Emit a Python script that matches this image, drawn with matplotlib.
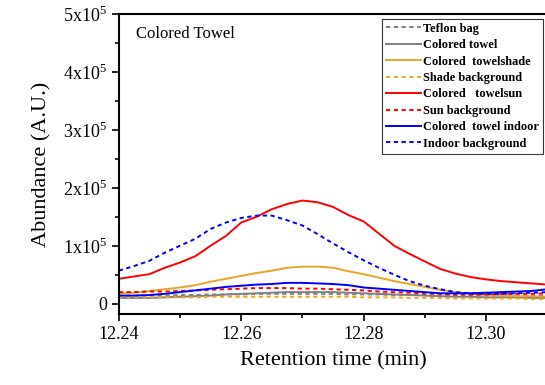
import numpy as np
import matplotlib
matplotlib.use("Agg")
import matplotlib.pyplot as plt
from matplotlib.ticker import MultipleLocator, FuncFormatter

plt.rcParams['font.family'] = 'serif'
plt.rcParams['font.serif'] = ['Liberation Serif']
plt.rcParams['mathtext.fontset'] = 'custom'
plt.rcParams['mathtext.rm'] = 'Liberation Serif'

# ── data (abundance in units of 1e3) ─────────────────────
time = [12.240, 12.2425, 12.245, 12.2475, 12.250, 12.2525, 12.255, 12.2575,
        12.260, 12.2625, 12.265, 12.2675, 12.270, 12.2725, 12.275, 12.2775,
        12.280, 12.2825, 12.285, 12.2875, 12.290, 12.2925, 12.295, 12.2975,
        12.300, 12.3025, 12.305, 12.3075, 12.310]

teflon_bag   = [14, 14, 14, 14, 15, 15, 16, 16, 16, 17, 17, 17, 17, 17, 17,
                16, 16, 16, 15, 15, 15, 14, 14, 14, 14, 14, 14, 14, 14]
towel        = [10, 10, 10, 11, 12, 13, 14, 16, 17, 18, 19, 20, 20, 20, 20,
                19, 18, 17, 16, 15, 14, 13, 12, 12, 11, 11, 11, 10, 10]
towel_shade  = [18, 19, 22, 25, 28, 32, 38, 43, 48, 53, 57, 62, 64, 64, 62,
                56, 51, 45, 39, 34, 29, 24, 20, 17, 15, 14, 13, 13, 12]
shade_bg     = [11, 11, 11, 11, 11, 11, 12, 12, 12, 12, 12, 12, 12, 12, 12,
                12, 11, 11, 11, 10, 10, 10, 9, 9, 9, 9, 9, 8, 8]
towel_sun    = [43, 47, 51, 62, 71, 82, 100, 117, 140, 150, 163, 172, 178, 175, 167,
                153, 142, 121, 100, 86, 73, 60, 52, 46, 42, 39, 37, 35, 33]
sun_bg       = [20, 20, 21, 21, 22, 23, 24, 25, 26, 27, 27, 27, 26, 26, 25,
                24, 23, 21, 20, 19, 18, 17, 16, 16, 16, 17, 17, 17, 18]
towel_indoor = [14, 14, 15, 17, 20, 23, 26, 29, 31, 33, 34, 36, 36, 35, 34,
                32, 28, 26, 24, 22, 20, 18, 18, 18, 19, 20, 21, 22, 25]
indoor_bg    = [57, 65, 74, 88, 100, 112, 129, 140, 148, 152, 152, 144, 135, 120, 104,
                89, 75, 62, 50, 39, 31, 25, 20, 18, 17, 17, 18, 19, 20]

labels = ["Teflon bag", "Colored towel", "Colored  towelshade", "Shade background",
          "Colored   towelsun", "Sun background", "Colored  towel indoor",
          "Indoor background"]

series = [teflon_bag, towel, towel_shade, shade_bg,
          towel_sun, sun_bg, towel_indoor, indoor_bg]
colors = ['#808080', '#808080', '#E8A628', '#F0A81E',
          '#FF0000', '#FF0000', '#0000FF', '#0000FF']
dotted = (0, (2.2, 1.8))
styles = [dotted, '-', '-', dotted, '-', dotted, '-', dotted]

# ── plot ─────────────────────────────────────────────────
fig = plt.figure(figsize=(5.45, 3.85), dpi=100)
ax = fig.add_axes([0.218, 0.184, 0.786, 0.78])

for vals, lab, c, ls in zip(series, labels, colors, styles):
    ax.plot(time, np.array(vals) * 1e3, color=c, linestyle=ls, lw=1.4, label=lab)

ax.set_xlim(12.24, 12.31)
ax.set_ylim(-1.8e4, 5e5)
ax.xaxis.set_major_locator(MultipleLocator(0.02))
ax.xaxis.set_minor_locator(MultipleLocator(0.01))
ax.yaxis.set_major_locator(MultipleLocator(1e5))
ax.yaxis.set_minor_locator(MultipleLocator(5e4))
ax.xaxis.set_major_formatter(FuncFormatter(lambda v, p: f"{v:.2f}"))

def yfmt(v, p):
    n = int(round(v / 1e5))
    return "0" if n == 0 else r"$%d\mathrm{x}10^{5}$" % n
ax.yaxis.set_major_formatter(FuncFormatter(yfmt))

ax.tick_params(which='major', direction='out', length=5, width=1.2, labelsize=13)
ax.tick_params(which='minor', direction='out', length=3, width=1.2)
for s in ax.spines.values():
    s.set_linewidth(1.5)

ax.set_xlabel("Retention time (min)", fontsize=16, labelpad=6)
ax.set_ylabel("Abundance (A.U.)", fontsize=16, labelpad=8)
ax.text(0.04, 0.96, "Colored Towel", transform=ax.transAxes, fontsize=12,
        va='top', ha='left')

leg = ax.legend(loc='upper right', bbox_to_anchor=(0.99, 0.983),
                prop={'weight': 'bold', 'size': 8.9}, frameon=True, fancybox=False,
                handlelength=2.8, handletextpad=0.2, labelspacing=0.36,
                borderpad=0.3, borderaxespad=0.0)
leg.get_frame().set_edgecolor('black')
leg.get_frame().set_linewidth(0.8)

plt.savefig("out.png", dpi=100)
